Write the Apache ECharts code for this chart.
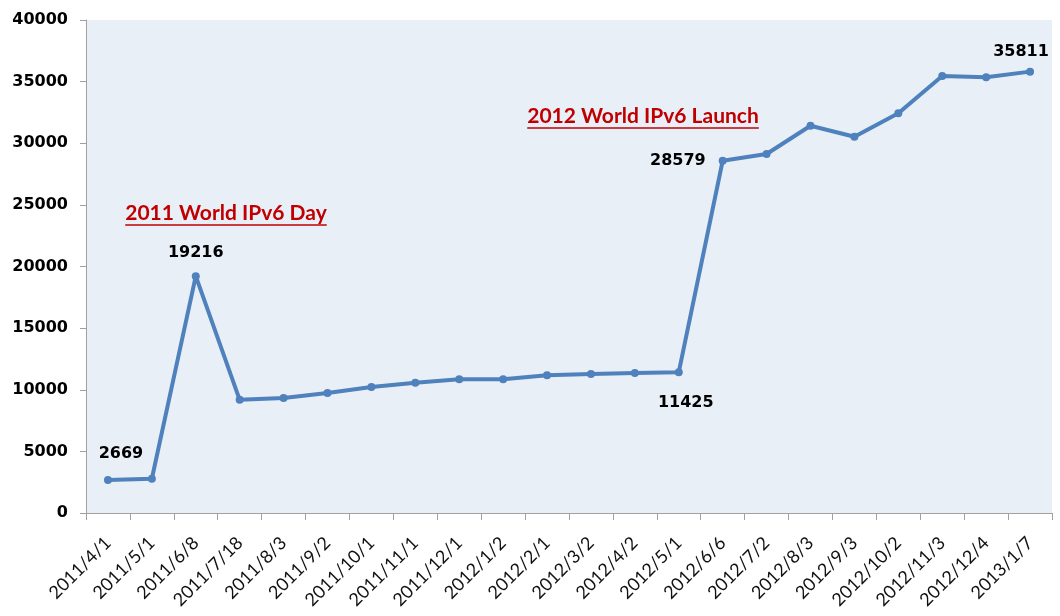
<!DOCTYPE html>
<html>
<head>
<meta charset="utf-8">
<script src="https://cdn.jsdelivr.net/npm/echarts@6/dist/echarts.min.js"></script>
<style>html,body{margin:0;padding:0;background:#fff;}#c{width:1060px;height:616px;}</style>
</head>
<body>
<div id="c"></div>
<script>
var categories = ['2011/4/1','2011/5/1','2011/6/8','2011/7/18','2011/8/3','2011/9/2','2011/10/1','2011/11/1','2011/12/1','2012/1/2','2012/2/1','2012/3/2','2012/4/2','2012/5/1','2012/6/6','2012/7/2','2012/8/3','2012/9/3','2012/10/2','2012/11/3','2012/12/4','2013/1/7'];
var values = [2669, 2780, 19216, 9180, 9330, 9740, 10220, 10570, 10850, 10850, 11170, 11280, 11360, 11425, 28579, 29130, 31420, 30530, 32430, 35460, 35350, 35811];
var labeledIndices = [0, 2, 13, 14, 21];
var annotations = [
  {text: '2011 World IPv6 Day', x: 226, y: 213},
  {text: '2012 World IPv6 Launch', x: 643, y: 116}
];

var labelStyle = {
  0:  {position: 'top', offset: [13, -9]},
  2:  {position: 'top', offset: [0, -6]},
  13: {position: 'bottom', offset: [7, 14]},
  14: {position: 'left', offset: [-8, 0]},
  21: {position: 'top', offset: [-9, -3]}
};

var seriesData = values.map(function (v, i) {
  if (labeledIndices.indexOf(i) >= 0) {
    var ls = labelStyle[i];
    return {value: v, label: {show: true, position: ls.position, offset: ls.offset,
      color: '#000', fontFamily: 'DejaVu Sans', fontWeight: 'bold', fontSize: 16}};
  }
  return v;
});

var chart = echarts.init(document.getElementById('c'));
var annFont = 'bold 21px Lato';
var ctx = document.createElement('canvas').getContext('2d');
ctx.font = annFont;
var graphics = [];
annotations.forEach(function (a) {
  graphics.push({
    type: 'text', x: a.x, y: a.y, z: 100,
    style: {text: a.text, fill: '#c00000', font: annFont, textAlign: 'center', textVerticalAlign: 'middle'}
  });
  var w = ctx.measureText(a.text).width;
  graphics.push({type: 'line', z: 100, shape: {x1: a.x - w / 2, y1: a.y + 12, x2: a.x + w / 2, y2: a.y + 12},
    style: {stroke: '#c00000', lineWidth: 1.5}});
});
chart.setOption({
  animation: false,
  backgroundColor: '#ffffff',
  grid: {left: 86, right: 8, top: 20, bottom: 103, show: true, backgroundColor: '#e9eff7', borderWidth: 0},
  xAxis: {
    type: 'category', data: categories, boundaryGap: true,
    axisLine: {lineStyle: {color: '#a0a0a0', width: 1}},
    axisTick: {show: true, length: 7, lineStyle: {color: '#a0a0a0'}},
    axisLabel: {rotate: 45, color: '#111', fontFamily: 'Lato', fontSize: 18, margin: 27, interval: 0}
  },
  yAxis: {
    type: 'value', min: 0, max: 40000, interval: 5000,
    splitLine: {show: false},
    axisLine: {show: true, lineStyle: {color: '#a0a0a0', width: 1}},
    axisTick: {show: true, length: 6, lineStyle: {color: '#a0a0a0'}},
    axisLabel: {color: '#000', fontFamily: 'DejaVu Sans', fontWeight: 'bold', fontSize: 16, margin: 18,
      formatter: function (v) { return String(v); }}
  },
  series: [{
    type: 'line', data: seriesData,
    symbol: 'circle', symbolSize: 8,
    lineStyle: {color: '#4f81bd', width: 4},
    itemStyle: {color: '#4f81bd'}
  }],
  graphic: graphics
});
</script>
</body>
</html>
